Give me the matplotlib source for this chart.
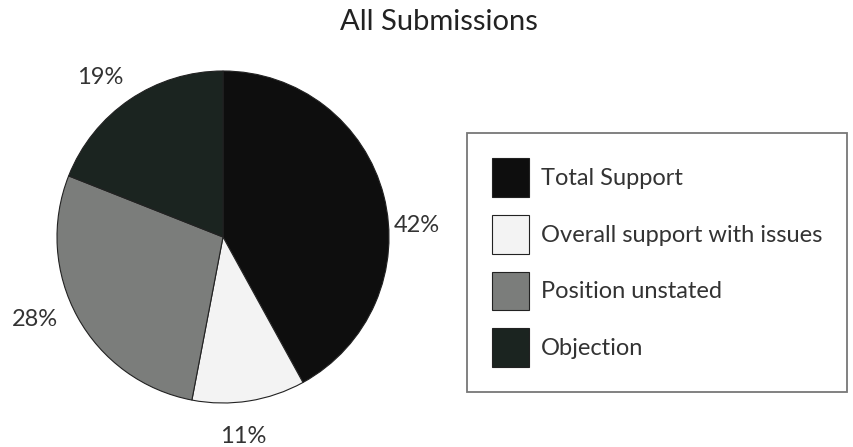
#!/usr/bin/env python3

# Pie chart of submission positions with a boxed legend on the right

import matplotlib
matplotlib.use("Agg")
from matplotlib import pyplot as plt

categories = ["Total Support", "Overall support with issues",
              "Position unstated", "Objection"]
shares = [42, 11, 28, 19]
colours = ["#0e0e0e", "#f3f3f3", "#7b7d7b", "#1b2420"]

# where each percentage label sits, in pie units (radius = 1)
label_pos = [(1.17, 0.07), (0.12, -1.20), (-1.13, -0.50), (-0.74, 0.96)]

params = {
    'font.family': ['Lato', 'DejaVu Sans'],
    'text.color': '#333333',
}
matplotlib.rcParams.update(params)

W, H = 854, 447
fig = plt.figure(figsize=(W / 100, H / 100), dpi=100)

cx, cy, r = 223, 237, 166
ax = fig.add_axes([(cx - r) / W, (H - cy - r) / H, 2 * r / W, 2 * r / H])

wedges, _ = ax.pie(shares, colors=colours, startangle=90, counterclock=False,
                   wedgeprops=dict(edgecolor='#222222', linewidth=0.8))
ax.set_xlim(-1, 1)
ax.set_ylim(-1, 1)
ax.set_aspect('equal')
ax.axis('off')

for v, (x, y) in zip(shares, label_pos):
    ax.text(x, y, f"{v}%", ha='center', va='center', fontsize=17,
            color='#333333')

fig.text(439 / W, 1 - 22 / H, "All Submissions", ha='center', va='center',
         fontsize=21, color='#222222')

leg = fig.legend(wedges, categories, loc='upper left',
                 bbox_to_anchor=(467 / W, 1 - 133 / H),
                 bbox_transform=fig.transFigure,
                 fontsize=17, frameon=True, fancybox=False,
                 handlelength=1.57, handleheight=2.16, handletextpad=0.5,
                 labelspacing=0.76, borderpad=1.05, borderaxespad=0)
frame = leg.get_frame()
frame.set_edgecolor('#555555')
frame.set_linewidth(1.3)
for t in leg.get_texts():
    t.set_color('#333333')

plt.savefig("out.png", dpi=100)
